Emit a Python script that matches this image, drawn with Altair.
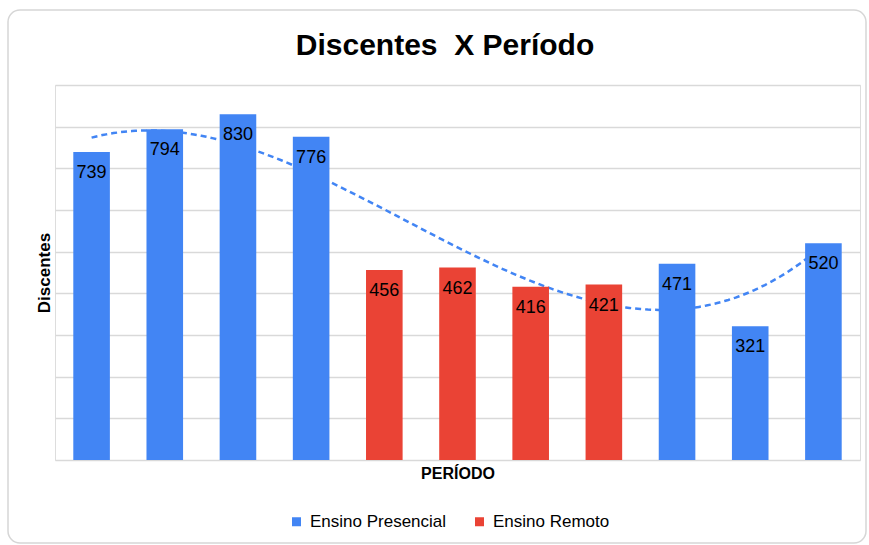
import altair as alt
import pandas as pd

# ---- data ----
titulo = "Discentes\u00a0 X Período"
periodos = ["P1", "P2", "P3", "P4", "P5", "P6", "P7", "P8", "P9", "P10", "P11"]
indice = [0, 1, 2, 3, 4, 5, 6, 7, 8, 9, 10]
discentes = [739, 794, 830, 776, 456, 462, 416, 421, 471, 321, 520]
modalidade = [
    "Ensino Presencial", "Ensino Presencial", "Ensino Presencial", "Ensino Presencial",
    "Ensino Remoto", "Ensino Remoto", "Ensino Remoto", "Ensino Remoto",
    "Ensino Presencial", "Ensino Presencial", "Ensino Presencial",
]
legenda = ["Ensino Presencial", "Ensino Remoto"]
cores = ["#4285F4", "#EA4335"]

df = pd.DataFrame({"periodo": periodos, "i": indice, "v": discentes, "modalidade": modalidade})

FONT = "Liberation Sans"
W, H = 805, 375
yscale = alt.Scale(domain=[0, 900], nice=False, zero=True)

one = alt.Data(values=[{"a": 1}])

frame = alt.Chart(one).mark_rect(
    fillOpacity=0, stroke="#d6d6d6", strokeWidth=1.5, cornerRadius=12
).encode(
    x=alt.value(-47), x2=alt.value(811), y=alt.value(-75), y2=alt.value(458)
)

title = alt.Chart(one).mark_text(
    font=FONT, fontSize=30, fontWeight="bold", color="#000000",
    align="center", baseline="alphabetic",
).encode(
    x=alt.value(390), y=alt.value(-30), text=alt.value(titulo)
)

trend = alt.Chart(df).transform_regression(
    "i", "v", method="poly", order=3, extent=[0, 10]
).mark_line(
    color="#4285F4", strokeDash=[6, 4], strokeWidth=2.5
).encode(
    x=alt.X("i:Q", scale=alt.Scale(domain=[-0.5, 10.5], nice=False, zero=False), axis=None),
    y=alt.Y("v:Q", scale=yscale),
)

xband = alt.Scale(paddingInner=0.5, paddingOuter=0.25)

bars = alt.Chart(df).mark_bar().encode(
    x=alt.X(
        "periodo:N", sort=periodos, scale=xband,
        axis=alt.Axis(
            title="PERÍODO", labels=False, ticks=False, domain=False, grid=False,
            titleFont=FONT, titleFontSize=16, titleFontWeight="bold",
            titleColor="#000000", titlePadding=5,
        ),
    ),
    y=alt.Y(
        "v:Q", scale=yscale,
        axis=alt.Axis(
            title="Discentes", labels=False, ticks=False, domain=False,
            values=[0, 100, 200, 300, 400, 500, 600, 700, 800, 900],
            gridColor="#d9d9d9", gridWidth=1.5,
            titleFont=FONT, titleFontSize=17, titleFontWeight="bold",
            titleColor="#000000", titlePadding=2,
        ),
    ),
    color=alt.Color(
        "modalidade:N",
        scale=alt.Scale(domain=legenda, range=cores),
        legend=alt.Legend(
            title=None, orient="none", legendX=233, legendY=428, direction="horizontal",
            symbolType="square", symbolSize=81, symbolStrokeWidth=0,
            labelFont=FONT, labelFontSize=17, labelColor="#000000",
            labelOffset=5, columnPadding=24, padding=0,
        ),
    ),
)

labels = alt.Chart(df).mark_text(
    font=FONT, fontSize=18, color="#000000", baseline="alphabetic", align="center", dy=26
).encode(
    x=alt.X("periodo:N", sort=periodos, scale=xband, axis=None),
    y=alt.Y("v:Q", scale=yscale),
    text=alt.Text("v:Q"),
)

chart = alt.layer(frame, title, trend, bars, labels).resolve_scale(
    x="independent"
).properties(
    width=W, height=H,
    autosize=alt.AutoSizeParams(type="none"),
    padding={"left": 55, "top": 85, "right": 9, "bottom": 85},
).configure_view(stroke=None).configure(background="white")

chart.save("out.html", embed_options={"renderer": "svg", "actions": False})
